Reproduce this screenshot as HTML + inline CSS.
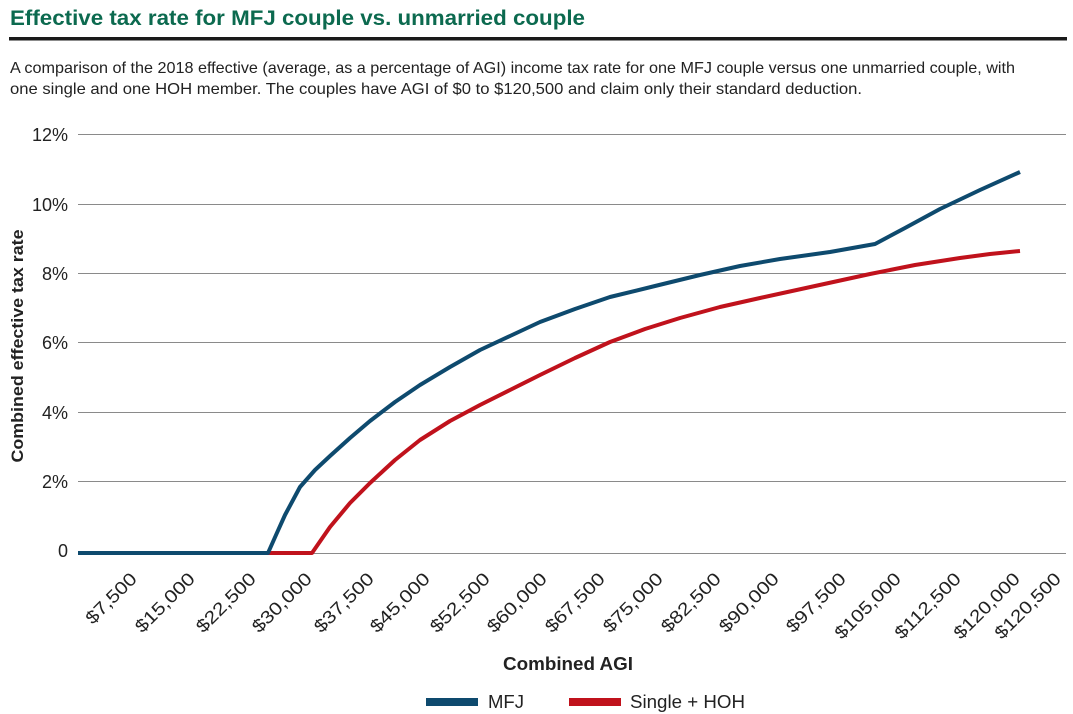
<!DOCTYPE html>
<html><head><style>
body{margin:0;background:#fff;font-family:"Liberation Sans",Arial,sans-serif;}
</style></head><body>
<svg width="1073" height="714" xmlns="http://www.w3.org/2000/svg" style="display:block">
<text x="10" y="25" font-size="21" font-weight="bold" fill="#0c6a4f" textLength="575" lengthAdjust="spacingAndGlyphs" font-family="Liberation Sans, sans-serif">Effective tax rate for MFJ couple vs. unmarried couple</text>
<rect x="9" y="37" width="1058" height="3.5" fill="#1a1a1a"/>
<text x="10" y="73" font-size="16" fill="#222" textLength="1005" lengthAdjust="spacingAndGlyphs" font-family="Liberation Sans, sans-serif">A comparison of the 2018 effective (average, as a percentage of AGI) income tax rate for one MFJ couple versus one unmarried couple, with</text>
<text x="10" y="94" font-size="16" fill="#222" textLength="852" lengthAdjust="spacingAndGlyphs" font-family="Liberation Sans, sans-serif">one single and one HOH member. The couples have AGI of $0 to $120,500 and claim only their standard deduction.</text>
<g stroke="#8a8a8a" stroke-width="1">
<line x1="78" y1="134.5" x2="1066" y2="134.5"/>
<line x1="78" y1="204.5" x2="1066" y2="204.5"/>
<line x1="78" y1="273.5" x2="1066" y2="273.5"/>
<line x1="78" y1="342.5" x2="1066" y2="342.5"/>
<line x1="78" y1="412.5" x2="1066" y2="412.5"/>
<line x1="78" y1="481.5" x2="1066" y2="481.5"/>
<line x1="78" y1="553.5" x2="1066" y2="553.5"/>
</g>
<g font-size="18" fill="#222" text-anchor="end" font-family="Liberation Sans, sans-serif">
<text x="68" y="141">12%</text><text x="68" y="211">10%</text><text x="68" y="280">8%</text>
<text x="68" y="349">6%</text><text x="68" y="419">4%</text><text x="68" y="488">2%</text><text x="68" y="557">0</text>
</g>
<text transform="translate(23,346) rotate(-90)" font-size="17" font-weight="bold" fill="#222" text-anchor="middle" textLength="233" lengthAdjust="spacingAndGlyphs" font-family="Liberation Sans, sans-serif">Combined effective tax rate</text>
<polyline fill="none" stroke="#c0121c" stroke-width="4" stroke-linejoin="round" points="268,553 312,553 330,527 350,503 370,483 395,460 420,440 450,421 480,405 510,390 540,375 575,358 610,342 645,329 680,318 720,307 760,298 815,286 870,274 915,265 960,258 990,254 1020,251"/>
<polyline fill="none" stroke="#0e4a6e" stroke-width="4" stroke-linejoin="round" points="78,553 268,553 276,535 285,515 300,487 315,470 330,456 350,438 370,421 395,402 420,385 450,367 480,350 510,336 540,322 575,309 610,297 655,286 700,275 740,266 780,259 830,252 875,244 905,228 940,209 980,190 1020,172"/>
<g font-size="18" fill="#222" text-anchor="end" font-family="Liberation Sans, sans-serif">
<text transform="translate(138,580) rotate(-45)" textLength="64" lengthAdjust="spacingAndGlyphs">$7,500</text>
<text transform="translate(196,580) rotate(-45)" textLength="76" lengthAdjust="spacingAndGlyphs">$15,000</text>
<text transform="translate(257,580) rotate(-45)" textLength="76" lengthAdjust="spacingAndGlyphs">$22,500</text>
<text transform="translate(313,580) rotate(-45)" textLength="76" lengthAdjust="spacingAndGlyphs">$30,000</text>
<text transform="translate(375,580) rotate(-45)" textLength="76" lengthAdjust="spacingAndGlyphs">$37,500</text>
<text transform="translate(431,580) rotate(-45)" textLength="76" lengthAdjust="spacingAndGlyphs">$45,000</text>
<text transform="translate(491,580) rotate(-45)" textLength="76" lengthAdjust="spacingAndGlyphs">$52,500</text>
<text transform="translate(548,580) rotate(-45)" textLength="76" lengthAdjust="spacingAndGlyphs">$60,000</text>
<text transform="translate(606,580) rotate(-45)" textLength="76" lengthAdjust="spacingAndGlyphs">$67,500</text>
<text transform="translate(664,580) rotate(-45)" textLength="76" lengthAdjust="spacingAndGlyphs">$75,000</text>
<text transform="translate(722,580) rotate(-45)" textLength="76" lengthAdjust="spacingAndGlyphs">$82,500</text>
<text transform="translate(780,580) rotate(-45)" textLength="76" lengthAdjust="spacingAndGlyphs">$90,000</text>
<text transform="translate(847,580) rotate(-45)" textLength="76" lengthAdjust="spacingAndGlyphs">$97,500</text>
<text transform="translate(902,580) rotate(-45)" textLength="85" lengthAdjust="spacingAndGlyphs">$105,000</text>
<text transform="translate(962,580) rotate(-45)" textLength="85" lengthAdjust="spacingAndGlyphs">$112,500</text>
<text transform="translate(1021,580) rotate(-45)" textLength="85" lengthAdjust="spacingAndGlyphs">$120,000</text>
<text transform="translate(1062,580) rotate(-45)" textLength="85" lengthAdjust="spacingAndGlyphs">$120,500</text>
</g>
<text x="568" y="670" font-size="18" font-weight="bold" fill="#222" text-anchor="middle" textLength="130" lengthAdjust="spacingAndGlyphs" font-family="Liberation Sans, sans-serif">Combined AGI</text>
<rect x="426" y="698" width="52" height="8" fill="#0e4a6e"/>
<text x="488" y="708" font-size="18" fill="#222" textLength="36" lengthAdjust="spacingAndGlyphs" font-family="Liberation Sans, sans-serif">MFJ</text>
<rect x="569" y="698" width="52" height="8" fill="#c0121c"/>
<text x="630" y="708" font-size="18" fill="#222" textLength="115" lengthAdjust="spacingAndGlyphs" font-family="Liberation Sans, sans-serif">Single + HOH</text>
</svg>
</body></html>
